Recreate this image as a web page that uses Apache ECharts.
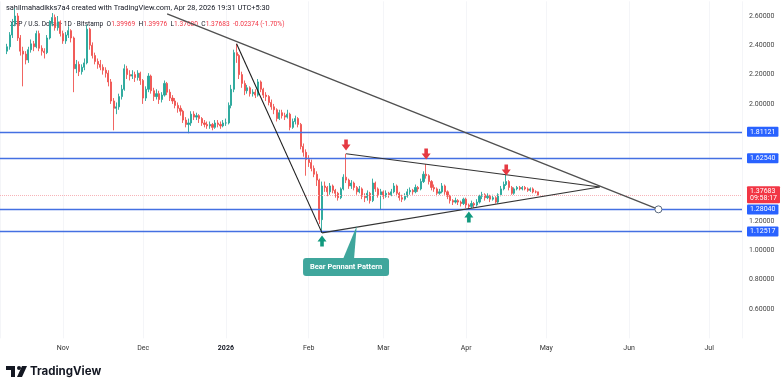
<!DOCTYPE html>
<html><head><meta charset="utf-8">
<script src="https://cdn.jsdelivr.net/npm/echarts@6/dist/echarts.min.js"></script>
<style>html,body{margin:0;padding:0;background:#fff}#c{width:783px;height:388px}</style>
</head><body><div id="c"></div>
<script>
// ---------------- DATA ----------------
const startDate = '2025-10-11';
const firstOpen = 2.36;
const closes = [
2.39,2.47,2.55,2.60,2.45,2.36,2.34,2.30,2.37,2.41,
2.39,2.48,2.38,2.36,2.35,2.45,2.55,2.59,2.52,2.56,
2.48,2.43,2.47,2.50,2.45,2.24,2.27,2.22,2.25,2.28,
2.51,2.40,2.33,2.29,2.27,2.25,2.23,2.21,2.15,2.02,
1.97,1.98,2.05,2.10,2.24,2.20,2.19,2.20,2.18,2.21,
2.16,2.04,2.10,2.19,2.09,2.05,2.07,2.03,2.06,2.14,
2.08,2.04,2.02,1.99,1.97,1.95,1.89,1.86,1.87,1.93,
1.91,1.92,1.90,1.87,1.86,1.85,1.86,1.84,1.87,1.86,
1.85,1.87,1.87,1.99,2.10,2.35,2.33,2.20,2.14,2.09,
2.11,2.07,2.08,2.06,2.15,2.10,2.06,2.05,2.01,1.98,
1.96,1.90,1.94,1.92,1.91,1.93,1.84,1.88,1.90,1.86,
1.71,1.67,1.62,1.60,1.56,1.52,1.48,1.21,1.44,1.43,
1.40,1.44,1.41,1.39,1.36,1.42,1.50,1.48,1.44,1.46,
1.43,1.40,1.42,1.37,1.36,1.39,1.34,1.46,1.42,1.38,
1.40,1.37,1.39,1.38,1.40,1.44,1.39,1.36,1.35,1.37,
1.40,1.41,1.40,1.43,1.42,1.47,1.52,1.51,1.47,1.43,
1.42,1.39,1.40,1.44,1.40,1.37,1.34,1.33,1.34,1.33,
1.32,1.35,1.31,1.30,1.32,1.31,1.33,1.37,1.38,1.36,
1.37,1.35,1.36,1.33,1.38,1.42,1.45,1.47,1.43,1.39,
1.42,1.43,1.42,1.43,1.42,1.41,1.42,1.40,1.39969,1.37683
];
const highs = [
2.41,2.49,2.58,2.65,2.62,2.47,2.39,2.36,2.39,2.44,
2.43,2.50,2.50,2.40,2.38,2.47,2.57,2.62,2.61,2.60,
2.57,2.50,2.49,2.53,2.51,2.46,2.30,2.29,2.27,2.31,
2.54,2.52,2.42,2.35,2.31,2.30,2.27,2.25,2.23,2.17,
2.04,2.01,2.07,2.13,2.27,2.26,2.23,2.23,2.22,2.23,
2.22,2.17,2.12,2.21,2.20,2.11,2.10,2.09,2.08,2.16,
2.15,2.10,2.06,2.04,2.01,1.99,1.96,1.91,1.90,1.95,
1.95,1.94,1.93,1.91,1.89,1.88,1.88,1.87,1.89,1.89,
1.88,1.89,1.90,2.01,2.13,2.37,2.41,2.34,2.22,2.16,
2.13,2.12,2.10,2.10,2.17,2.16,2.11,2.08,2.06,2.03,
2.00,1.97,1.96,1.96,1.94,1.96,1.94,1.90,1.92,1.91,
1.87,1.73,1.69,1.65,1.62,1.58,1.54,1.49,1.47,1.47,
1.44,1.46,1.45,1.42,1.40,1.43,1.52,1.66,1.49,1.48,
1.47,1.44,1.44,1.43,1.39,1.41,1.40,1.49,1.47,1.43,
1.42,1.41,1.41,1.40,1.42,1.46,1.45,1.40,1.38,1.39,
1.42,1.43,1.42,1.45,1.44,1.49,1.54,1.59,1.52,1.48,
1.45,1.43,1.42,1.46,1.45,1.41,1.38,1.35,1.36,1.35,
1.34,1.36,1.36,1.32,1.34,1.33,1.35,1.38,1.40,1.39,
1.39,1.38,1.38,1.37,1.39,1.44,1.47,1.52,1.48,1.44,
1.43,1.44,1.44,1.44,1.44,1.43,1.43,1.43,1.41,1.39976
];
const lows = [
2.34,2.37,2.45,2.53,2.43,2.33,2.12,2.27,2.28,2.35,
2.36,2.38,2.36,2.33,2.31,2.34,2.44,2.53,2.50,2.50,
2.46,2.41,2.41,2.45,2.42,2.08,2.21,2.19,2.20,2.23,
2.27,2.37,2.31,2.27,2.24,2.23,2.20,2.18,2.12,2.00,
1.82,1.93,1.96,2.03,2.09,2.17,2.16,2.17,2.15,2.16,
2.13,2.00,2.02,2.08,2.07,2.02,2.03,2.00,2.01,2.05,
2.06,2.02,2.00,1.97,1.94,1.92,1.87,1.84,1.80,1.85,
1.89,1.89,1.87,1.85,1.84,1.83,1.83,1.82,1.83,1.84,
1.83,1.84,1.85,1.86,1.97,2.08,2.28,2.17,2.11,2.06,
2.07,2.05,2.05,2.04,2.05,2.08,2.04,2.02,1.99,1.96,
1.93,1.88,1.89,1.90,1.89,1.90,1.82,1.83,1.86,1.84,
1.69,1.64,1.51,1.57,1.54,1.50,1.44,1.18,1.12,1.40,
1.37,1.38,1.39,1.36,1.34,1.35,1.41,1.46,1.42,1.42,
1.41,1.38,1.39,1.35,1.33,1.34,1.32,1.33,1.40,1.36,
1.28,1.35,1.36,1.36,1.37,1.39,1.37,1.34,1.33,1.34,
1.36,1.38,1.38,1.39,1.40,1.41,1.46,1.49,1.45,1.41,
1.40,1.37,1.38,1.39,1.38,1.35,1.32,1.31,1.32,1.31,
1.30,1.31,1.29,1.28,1.29,1.29,1.30,1.32,1.35,1.34,
1.35,1.33,1.34,1.32,1.32,1.37,1.41,1.44,1.41,1.38,
1.38,1.41,1.41,1.41,1.41,1.40,1.40,1.39,1.39,1.37680
];
const levelLines = [1.81121, 1.62540, 1.28040, 1.12517];
const lastPrice = 1.37683;
const lastPriceTimer = '09:58:17';
const trendLines = [
  [['2025-12-10', 2.614], ['2026-06-12', 1.2804]],
  [['2026-01-05', 2.41], ['2026-02-06', 1.12]],
  [['2026-02-15', 1.66], ['2026-05-21', 1.433]],
  [['2026-02-06', 1.12], ['2026-05-21', 1.433]]
];
const downArrows = [['2026-02-15', 1.72], ['2026-03-17', 1.658], ['2026-04-16', 1.549]];
const upArrows = [['2026-02-06', 1.064], ['2026-04-02', 1.228]];
const endCircle = ['2026-06-12', 1.2804];
const patternLabel = 'Bear Pennant Pattern';
const patternAnchor = ['2026-02-19', 1.167];
const patternBox = ['2026-02-15', 0.887];
const headerLine1 = 'sahilmahadikks7a4 created with TradingView.com, Apr 28, 2026 19:31 UTC+5:30';
const symbolTitle = 'XRP / U.S. Dollar · 1D · Bitstamp';
const ohlcKeys = ['O', 'H', 'L', 'C'];
const ohlcVals = ['1.39969', '1.39976', '1.37680', '1.37683'];
const changeText = '-0.02374 (-1.70%)';
const hiddenYLabels = [0.4, 1.4, 1.6, 1.8, 2.7];

// ---------------- HELPERS ----------------
const DAY = 86400000;
function parseDay(s) { const a = s.split('-').map(Number); return new Date(a[0], a[1] - 1, a[2]).getTime(); }
const t0 = parseDay(startDate);
const candleData = closes.map((c, i) => {
  const d = new Date(t0); d.setDate(d.getDate() + i);
  const o = i === 0 ? firstOpen : closes[i - 1];
  return [d.getTime(), o, c, lows[i], highs[i]];
});
const jan1 = parseDay('2026-01-01');
const xMin = jan1 - 84.6 * DAY;
const xMax = jan1 + 193.3 * DAY;
const pt = p => [parseDay(p[0]), p[1]];

const UP = '#26a69a', DOWN = '#ef5350', BLUE = '#2962ff';
const FONT = 'Roboto';

const markLines = [];
levelLines.forEach(v => markLines.push({
  yAxis: v,
  lineStyle: { color: '#4470e2', width: 1.4, type: 'solid' },
  label: { show: true, position: 'end', distance: 5, formatter: v.toFixed(5), backgroundColor: BLUE, color: '#fff',
           fontSize: 7, fontFamily: FONT, padding: [2, 3, 1, 3], borderRadius: 1 }
}));
markLines.push({
  yAxis: lastPrice,
  lineStyle: { color: '#f7b3b8', width: 1, type: 'dotted' },
  label: { show: true, position: 'end', distance: 5, formatter: lastPrice.toFixed(5) + '\n' + lastPriceTimer,
           backgroundColor: '#f23645', color: '#fff', fontSize: 7, lineHeight: 7.5, fontFamily: FONT, padding: [1, 3, 1, 3], borderRadius: 1 }
});
const trendStyles = [
  { color: '#505050', width: 1.4 },
  { color: '#1e1e1e', width: 1.1 },
  { color: '#333333', width: 1.1 },
  { color: '#333333', width: 1.1 }
];
trendLines.forEach((tl, k) => markLines.push([
  { coord: pt(tl[0]), lineStyle: Object.assign({ type: 'solid' }, trendStyles[k]), label: { show: false } },
  { coord: pt(tl[1]) }
]));

const downPath = 'path://M3,0 L7,0 L7,5 L10,5 L5,11 L0,5 L3,5 Z';
const upPath = 'path://M5,0 L10,6 L7,6 L7,11 L3,11 L3,6 L0,6 Z';
const markPoints = [];
downArrows.forEach(a => markPoints.push({ coord: pt(a), symbol: downPath, symbolSize: [9, 11], itemStyle: { color: '#e53a43' }, label: { show: false } }));
upArrows.forEach(a => markPoints.push({ coord: pt(a), symbol: upPath, symbolSize: [9, 11], itemStyle: { color: '#11997e' }, label: { show: false } }));
markPoints.push({ coord: pt(endCircle), symbol: 'circle', symbolSize: 7, itemStyle: { color: '#fff', borderColor: '#5a6a80', borderWidth: 1 }, label: { show: false } });

const chart = echarts.init(document.getElementById('c'), null, { renderer: 'canvas' });
chart.setOption({
  animation: false,
  backgroundColor: '#fff',
  grid: { left: 0, right: 41, top: 1.35, bottom: 49.65, containLabel: false },
  xAxis: {
    type: 'time', min: xMin, max: xMax, splitNumber: 10,
    axisLine: { show: false }, axisTick: { show: false },
    splitLine: { show: true, lineStyle: { color: '#f4f5f8', width: 1 } },
    axisLabel: {
      fontSize: 7, color: '#333', fontFamily: FONT, margin: 6,
      formatter: { year: '{b|{yyyy}}', month: '{MMM}', day: '', hour: '', minute: '', second: '', millisecond: '' },
      rich: { b: { fontWeight: 'bold', fontSize: 7, color: '#131722', fontFamily: FONT } }
    }
  },
  yAxis: {
    type: 'value', position: 'right', min: 0.4, max: 2.7, interval: 0.2, scale: false,
    axisLine: { show: false }, axisTick: { show: false }, splitLine: { show: false },
    axisLabel: {
      fontSize: 7, color: '#444', fontFamily: FONT, margin: 7, showMinLabel: false, showMaxLabel: false,
      formatter: v => hiddenYLabels.some(h => Math.abs(h - v) < 1e-6) ? '' : v.toFixed(5)
    }
  },
  series: [{
    type: 'candlestick',
    data: candleData,
    barWidth: 1.6,
    itemStyle: { color: UP, color0: DOWN, borderColor: UP, borderColor0: DOWN, borderWidth: 0.9 },
    markLine: { silent: true, symbol: ['none', 'none'], animation: false, data: markLines },
    markPoint: { silent: true, animation: false, data: markPoints }
  }]
});

// ---------------- ANNOTATIONS / TEXT ----------------
const a = chart.convertToPixel({ gridIndex: 0 }, pt(patternAnchor));
const b = chart.convertToPixel({ gridIndex: 0 }, pt(patternBox));
const TEAL = '#3fa69c';
const ohlcRich = ohlcKeys.map((k, i) => '{k|' + k + '}{v|' + ohlcVals[i] + '}').join(' ');
chart.setOption({
  graphic: [
    { type: 'text', x: 6, y: 8, z: 0, style: { text: headerLine1, fontSize: 7.4, fontFamily: FONT, fill: '#131722', verticalAlign: 'middle' } },
    { type: 'text', x: 10, y: 24, z: 0, style: {
        text: '{k|' + symbolTitle + '} ' + ohlcRich + ' {v|' + changeText + '}',
        verticalAlign: 'middle',
        rich: { k: { fontSize: 6.6, fontFamily: FONT, fill: '#131722' }, v: { fontSize: 6.6, fontFamily: FONT, fill: '#f23645' } }
    } },
    { type: 'polygon', z: 50, shape: { points: [[b[0] - 3, b[1] - 8], [b[0] + 8, b[1] - 8], [a[0], a[1]]] }, style: { fill: TEAL } },
    { type: 'rect', z: 50, shape: { x: b[0] - 43, y: b[1] - 9, width: 86, height: 18, r: 3 }, style: { fill: TEAL } },
    { type: 'text', z: 51, x: b[0], y: b[1], style: { text: patternLabel, fontSize: 7.5, fontWeight: 'bold', fontFamily: FONT, fill: '#fff', align: 'center', verticalAlign: 'middle' } },
    // TradingView logo
    { type: 'group', z: 60, children: [
      { type: 'rect', shape: { x: 6, y: 366, width: 9, height: 4 }, style: { fill: '#131722' } },
      { type: 'rect', shape: { x: 11, y: 366, width: 4, height: 11 }, style: { fill: '#131722' } },
      { type: 'circle', shape: { cx: 19, cy: 368, r: 2 }, style: { fill: '#131722' } },
      { type: 'polygon', shape: { points: [[22, 366], [27, 366], [22, 377], [17, 377]] }, style: { fill: '#131722' } },
      { type: 'text', x: 30, y: 372, style: { text: 'TradingView', fontSize: 11.5, fontWeight: 'bold', fontFamily: 'Inter', fill: '#131722', verticalAlign: 'middle' } }
    ] }
  ]
});
</script>
</body></html>
